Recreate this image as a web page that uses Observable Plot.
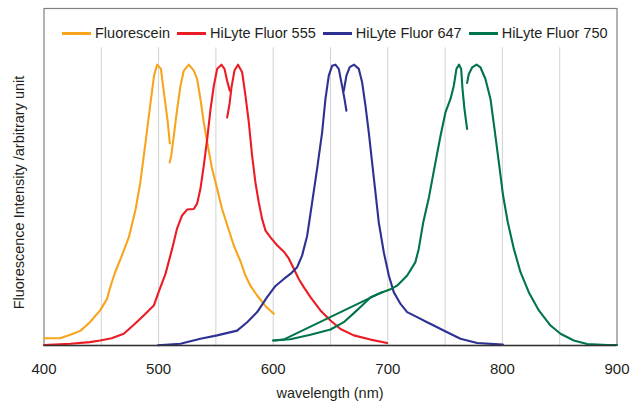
<!DOCTYPE html>
<html>
<head>
<meta charset="utf-8">
<script src="https://cdn.jsdelivr.net/npm/d3@7"></script>
<script src="https://cdn.jsdelivr.net/npm/@observablehq/plot@0.6"></script>
<style>
  html, body { margin: 0; padding: 0; background: #fff; }
  #wrap { position: relative; width: 639px; height: 404px; font-family: "Liberation Sans", Arial, sans-serif; color: #231f20; }
  #legend { position: absolute; left: 62px; top: 25px; display: flex; align-items: center; font-size: 14.5px; line-height: 17px; white-space: nowrap; }
  #legend .sw { display: inline-block; width: 29px; height: 2.6px; margin-right: 4px; }
  #legend .lab { margin-right: 7px; }
  #ylab { position: absolute; left: -131px; top: 184.5px; width: 300px; height: 15px; line-height: 15px; font-size: 14.5px; text-align: center; transform: rotate(-90deg); transform-origin: 150px 7.5px; white-space: nowrap; }
  #xlab { position: absolute; left: 180px; width: 300px; top: 386px; line-height: 15px; font-size: 14.5px; text-align: center; }
</style>
</head>
<body>
<div id="wrap"></div>
<script>
// ---- data (wavelength nm, relative intensity) ----
const dyes = ["Fluorescein", "HiLyte Fluor 555", "HiLyte Fluor 647", "HiLyte Fluor 750"];
const dyeColors = ["#F8A51D", "#EC1C24", "#2E3192", "#00744A"];
const xTicks = [400, 500, 600, 700, 800, 900];
const gridX = [450, 500, 550, 600, 650, 700, 750, 800, 850];

const fluoresceinEx = [[400,0.026],[414,0.026],[423,0.038],[432,0.053],[440,0.083],[449,0.125],[455,0.166],[458,0.21],[462,0.26],[467,0.31],[474,0.385],[480,0.486],[484,0.58],[488.5,0.72],[493,0.866],[496,0.96],[498.7,1.0],[502,0.985],[505,0.89],[508,0.795],[509.8,0.72]];
const fluoresceinEm = [[509.6,0.652],[511,0.676],[513.3,0.747],[516.2,0.842],[519.1,0.925],[522,0.979],[526.4,1.0],[530.7,0.979],[533.6,0.949],[536.5,0.878],[539.4,0.795],[542.4,0.724],[546.7,0.629],[551.1,0.558],[555.4,0.486],[559.8,0.43],[565.6,0.356],[571.4,0.3],[575.8,0.249],[580.2,0.212],[586,0.178],[593.3,0.14],[600.5,0.113]];

const hf555Ex = [[400,0.002],[423,0.006],[440,0.012],[449,0.018],[459,0.026],[469.6,0.042],[478.4,0.074],[487,0.107],[495.8,0.142],[500,0.19],[506,0.255],[511.8,0.344],[516,0.415],[520.5,0.463],[524.9,0.484],[530.7,0.486],[533.6,0.505],[536.5,0.558],[539.4,0.64],[542.4,0.735],[545.3,0.842],[548.2,0.925],[551.1,0.985],[554.8,1.0],[557.5,0.985],[559.8,0.943],[562.1,0.907]];
const hf555Em = [[559.8,0.812],[561.9,0.86],[563.6,0.919],[566.2,0.979],[569.3,1.0],[572.9,0.973],[575.8,0.89],[578.7,0.795],[581.6,0.676],[584.5,0.58],[587.4,0.51],[590.3,0.451],[593.3,0.409],[597.6,0.385],[603.4,0.357],[609.3,0.334],[613.6,0.31],[618,0.273],[622.3,0.237],[626.7,0.208],[632.5,0.172],[641.2,0.125],[650,0.089],[658.7,0.059],[670.3,0.036],[684.9,0.021],[699.4,0.009]];

const hf647Ex = [[499.5,0.001],[519,0.006],[536.5,0.024],[551.1,0.036],[568.5,0.053],[577.3,0.083],[586,0.119],[594.7,0.172],[602,0.212],[609.3,0.237],[615,0.255],[620.9,0.279],[625.2,0.32],[629.6,0.39],[634,0.51],[638.3,0.629],[642.7,0.759],[645.6,0.878],[648.5,0.961],[651.4,0.996],[654.3,1.0],[657.2,0.985],[660.1,0.925],[662.2,0.878],[663.9,0.836]];
const hf647Em = [[661.6,0.907],[663.9,0.961],[666.8,0.991],[670.6,1.0],[674.7,0.985],[677.6,0.937],[680.5,0.854],[683.4,0.759],[686.3,0.652],[689.2,0.546],[692.1,0.439],[696.5,0.332],[700.9,0.249],[705.2,0.19],[711.1,0.148],[716.9,0.119],[725.6,0.101],[734.3,0.083],[740.1,0.071],[751.8,0.047],[763.4,0.024],[778,0.009],[800.4,0.003]];

const hf750Ex = [[600,0.018],[615,0.022],[632.5,0.038],[650,0.057],[661.6,0.083],[673,0.125],[685,0.172],[693.6,0.187],[702.3,0.2],[708.1,0.213],[716.9,0.249],[724.1,0.297],[727,0.344],[731,0.44],[736,0.53],[740.1,0.62],[746,0.747],[750.3,0.83],[754.7,0.878],[757.6,0.925],[759.9,0.985],[762.2,1.0],[764,0.985],[765.2,0.913],[766.9,0.842],[769.2,0.771]];
const hf750Link = [[600,0.018],[609,0.021],[695,0.19]];
const hf750Em = [[769.2,0.935],[770.7,0.967],[773.6,0.99],[777.4,1.0],[780.9,0.99],[785.2,0.949],[789.6,0.878],[793.1,0.771],[796.9,0.652],[800.6,0.534],[804.7,0.439],[810,0.344],[815.8,0.261],[823,0.19],[831.8,0.125],[842,0.071],[850.7,0.042],[862.3,0.018],[874,0.005],[891.4,0.002],[900,0.002]];

const curves = [
  {dye: dyes[0], seg: "fl-ex", pts: fluoresceinEx},
  {dye: dyes[0], seg: "fl-em", pts: fluoresceinEm},
  {dye: dyes[1], seg: "555-ex", pts: hf555Ex},
  {dye: dyes[1], seg: "555-em", pts: hf555Em},
  {dye: dyes[2], seg: "647-ex", pts: hf647Ex},
  {dye: dyes[2], seg: "647-em", pts: hf647Em},
  {dye: dyes[3], seg: "750-ex", pts: hf750Ex},
  {dye: dyes[3], seg: "750-link", pts: hf750Link},
  {dye: dyes[3], seg: "750-em", pts: hf750Em}
];
const rows = curves.flatMap(c => c.pts.map(([nm, v]) => ({dye: c.dye, seg: c.seg, nm, v})));

const chart = Plot.plot({
  width: 639,
  height: 404,
  marginLeft: 43.5,
  marginRight: 22.5,
  marginTop: 8,
  marginBottom: 59,
  style: {fontFamily: '"Liberation Sans", Arial, sans-serif', fontSize: "15px", color: "#231f20", background: "white"},
  x: {domain: [400, 900], ticks: xTicks, tickSize: 0, tickPadding: 18, label: null},
  y: {domain: [0, 1.2], axis: null},
  color: {domain: dyes, range: dyeColors},
  marks: [
    Plot.ruleX(gridX, {y1: 0, y2: 1.06, stroke: "#d2d2d2", strokeWidth: 1}),
    Plot.frame({stroke: "#808080", strokeWidth: 1.2}),
    Plot.line(rows, {x: "nm", y: "v", z: "seg", stroke: "dye", strokeWidth: 2.1}),
    Plot.ruleY([0], {stroke: "#333", strokeWidth: 1.3})
  ]
});

const wrap = document.getElementById("wrap");
wrap.appendChild(chart);

const legend = document.createElement("div");
legend.id = "legend";
dyes.forEach((d, i) => {
  const sw = document.createElement("span");
  sw.className = "sw";
  sw.style.background = dyeColors[i];
  const lab = document.createElement("span");
  lab.className = "lab";
  lab.textContent = d;
  legend.appendChild(sw);
  legend.appendChild(lab);
});
wrap.appendChild(legend);

const ylab = document.createElement("div");
ylab.id = "ylab";
ylab.textContent = "Fluorescence Intensity /arbitrary unit";
wrap.appendChild(ylab);

const xlab = document.createElement("div");
xlab.id = "xlab";
xlab.textContent = "wavelength (nm)";
wrap.appendChild(xlab);
</script>
</body>
</html>
